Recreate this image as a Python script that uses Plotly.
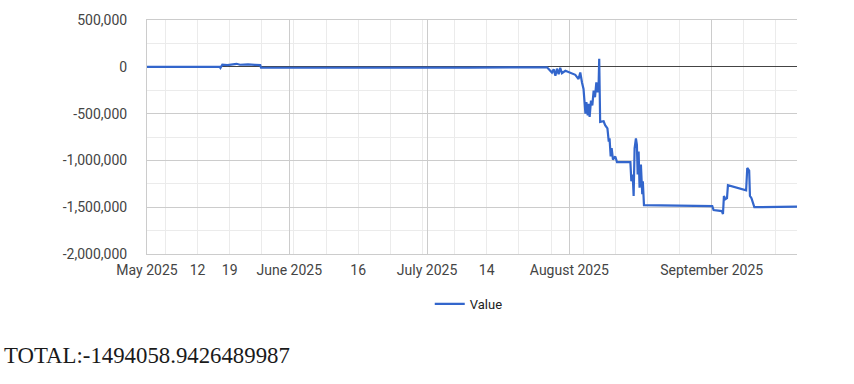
import plotly.graph_objects as go

# ---- data ----
dates = [
    "2025-05-01 00:00", "2025-05-16 20:00", "2025-05-17 00:00", "2025-05-17 10:00",
    "2025-05-18 12:00", "2025-05-19 12:00", "2025-05-20 12:00", "2025-05-21 06:00",
    "2025-05-23 00:00", "2025-05-24 12:00", "2025-05-25 16:00", "2025-05-25 20:00",
    "2025-06-15 00:00", "2025-07-10 00:00", "2025-07-27 03:00",
    "2025-07-28 05:00", "2025-07-28 14:00", "2025-07-28 23:00", "2025-07-29 07:00",
    "2025-07-29 16:00", "2025-07-30 00:00", "2025-07-30 09:00", "2025-07-31 03:00",
    "2025-08-01 05:00", "2025-08-02 07:00", "2025-08-03 00:00", "2025-08-03 09:00",
    "2025-08-03 18:00", "2025-08-04 02:00", "2025-08-04 12:00", "2025-08-04 17:00",
    "2025-08-05 00:00", "2025-08-05 05:00", "2025-08-05 10:00", "2025-08-05 17:00",
    "2025-08-06 00:00", "2025-08-06 07:00", "2025-08-06 14:00", "2025-08-06 21:00",
    "2025-08-07 04:00", "2025-08-07 09:00", "2025-08-07 12:00", "2025-08-07 17:00",
    "2025-08-08 11:00", "2025-08-08 19:00", "2025-08-09 07:00", "2025-08-09 14:00",
    "2025-08-09 18:00", "2025-08-10 00:00", "2025-08-10 05:00", "2025-08-10 12:00",
    "2025-08-11 00:00", "2025-08-11 09:00", "2025-08-14 07:00", "2025-08-14 12:00",
    "2025-08-14 19:00", "2025-08-15 00:00", "2025-08-15 05:00", "2025-08-15 12:00",
    "2025-08-15 17:00", "2025-08-15 21:00", "2025-08-16 02:00", "2025-08-16 07:00",
    "2025-08-16 14:00", "2025-08-16 21:00", "2025-08-17 00:00", "2025-08-17 06:00",
    "2025-09-01 03:00", "2025-09-01 10:00", "2025-09-03 05:00", "2025-09-03 11:00",
    "2025-09-03 16:00", "2025-09-04 00:00", "2025-09-04 08:00", "2025-09-04 13:00",
    "2025-09-08 12:00", "2025-09-08 18:00", "2025-09-09 04:00", "2025-09-09 08:00",
    "2025-09-09 16:00", "2025-09-09 22:00", "2025-09-10 07:00", "2025-09-19 14:00",
]
values = [
    0, 0, -12000, 22000,
    18000, 24000, 32000, 22000,
    26000, 21000, 18000, -10000,
    -12000, -9000, -5000,
    -61000, -26000, -96000, -20000,
    -79000, -10000, -68000, -43000,
    -61000, -86000, -131000, -61000,
    -167000, -237000, -501000, -378000,
    -518000, -396000, -536000, -360000,
    -413000, -254000, -325000, -167000,
    -272000, -185000, 86000, -589000,
    -582000, -624000, -659000, -800000,
    -765000, -958000, -870000, -993000,
    -958000, -1018000, -1018000, -1222000,
    -1151000, -1380000, -870000, -765000,
    -835000, -1151000, -905000, -1292000,
    -1045000, -1362000, -1222000, -1478000,
    -1488000, -1531000, -1541000, -1573000,
    -1380000, -1415000, -1404000, -1264000,
    -1320000, -1081000, -1109000, -1380000,
    -1404000, -1450000, -1500000, -1494058.9426489987,
]
series_name = "Value"
total_label = "TOTAL:-1494058.9426489987"

y_tickvals = [500000, 0, -500000, -1000000, -1500000, -2000000]
y_ticktext = ["500,000", "0", "-500,000", "-1,000,000", "-1,500,000", "-2,000,000"]

x_label_vals = ["2025-05-01", "2025-05-12", "2025-05-19", "2025-06-01", "2025-06-16",
                "2025-07-01", "2025-07-14", "2025-08-01", "2025-09-01"]
x_label_text = ["May 2025", "12", "19", "June 2025", "16", "July 2025", "14",
                "August 2025", "September 2025"]
month_starts = ["2025-05-01", "2025-06-01", "2025-07-01", "2025-08-01", "2025-09-01"]

x_range = ["2025-05-01 00:00", "2025-09-19 14:00"]
y_range = [-2000000, 500000]

FONT = "Roboto"
fig = go.Figure()
fig.add_trace(go.Scatter(x=dates, y=values, mode="lines", name=series_name,
                         line=dict(color="#3366cc", width=2.2)))
# invisible helper traces so the overlay axes are drawn
fig.add_trace(go.Scatter(x=[dates[0]], y=[0], xaxis="x2", mode="lines",
                         showlegend=False, hoverinfo="skip", line=dict(width=0)))
fig.add_trace(go.Scatter(x=[dates[0]], y=[0], xaxis="x3", mode="lines",
                         showlegend=False, hoverinfo="skip", line=dict(width=0)))

fig.update_layout(
    width=854, height=384,
    margin=dict(l=146.6, r=57.3, t=17, b=129.7),
    paper_bgcolor="white", plot_bgcolor="white",
    font=dict(family=FONT, size=13, color="#444"),
    showlegend=True,
    legend=dict(orientation="h", x=0.495, xanchor="center", y=-0.213, yanchor="middle",
                font=dict(family=FONT, size=13, color="#222")),
    xaxis=dict(type="date", range=x_range, tickmode="linear", tick0="2025-05-05",
               dtick=7 * 86400000, showticklabels=False, showgrid=True,
               gridcolor="#ebebeb", gridwidth=1, zeroline=False, ticks="",
               showline=True, linecolor="#cccccc", linewidth=1, mirror=True),
    xaxis2=dict(type="date", range=x_range, overlaying="x", anchor="y",
                tickmode="array", tickvals=month_starts, showticklabels=False,
                showgrid=True, gridcolor="#cccccc", gridwidth=1, ticks=""),
    xaxis3=dict(type="date", range=x_range, overlaying="x", anchor="y", side="bottom",
                tickmode="array", tickvals=x_label_vals, ticktext=x_label_text,
                showgrid=False, ticks="", ticklabelstandoff=6,
                tickfont=dict(family=FONT, size=14, color="#444")),
    yaxis=dict(range=y_range, tickmode="array", tickvals=y_tickvals, ticktext=y_ticktext,
               showgrid=True, gridcolor="#cccccc", gridwidth=1,
               minor=dict(dtick=250000, tick0=0, showgrid=True, gridcolor="#ebebeb"),
               zeroline=True, zerolinecolor="#444444", zerolinewidth=1,
               showline=True, linecolor="#cccccc", linewidth=1,
               ticks="", ticklabelstandoff=16,
               tickfont=dict(family=FONT, size=14, color="#444")),
    annotations=[dict(text=total_label, xref="paper", yref="paper", x=-0.2224, y=-0.4328,
                      xanchor="left", yanchor="middle", showarrow=False,
                      font=dict(family="Liberation Serif", size=22.8, color="#1a1a1a"))],
)

fig.write_html("out.html")
